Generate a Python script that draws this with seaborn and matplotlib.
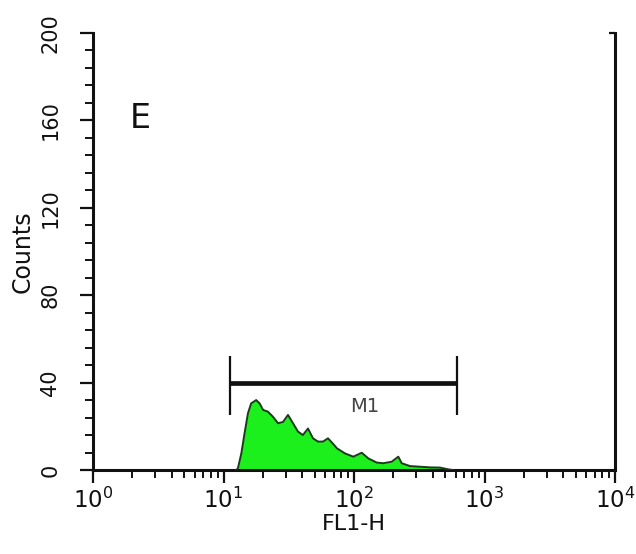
import matplotlib
matplotlib.use("Agg")
import matplotlib.pyplot as plt
import matplotlib.ticker as mticker
import seaborn as sns

# FL1-H histogram (log channel value vs. event count)
fl1_channel = [12.5, 12.9, 13.7, 14.5, 15.4, 16.3, 17.8, 18.9, 20.1, 21.9,
               23.9, 26.2, 28.6, 31.2, 34.1, 37.2, 40.6, 44.4, 48.5, 53.0,
               57.8, 63.2, 70.3, 74.1, 85.3, 98.8, 114.6, 128.8, 149.3, 167.9,
               194.5, 218.5, 232.0, 268.5, 320.5, 382.0, 456.0, 528.0, 574.0]
counts = [0, 0.8, 7.6, 16.8, 26, 30.5, 32, 30.5, 27.5, 26.7,
          24.4, 21.4, 22, 25.2, 21.4, 17.6, 16, 19, 14.5, 13,
          13, 14.5, 11.5, 9.9, 7.6, 6.1, 7.9, 5.3, 3.4, 3.1,
          3.8, 6.1, 3.1, 1.8, 1.5, 1.2, 1.1, 0.3, 0]

# M1 marker gate
m1_left, m1_right = 11.2, 615.0
m1_level = 40
m1_cap = (25, 52)
m1_label_pos = (121, 29)

x_ticks = [1, 10, 100, 1000, 10000]
x_tick_labels = [r"$10^{0}$", r"$10^{1}$", r"$10^{2}$", r"$10^{3}$", r"$10^{4}$"]
y_ticks = [0, 40, 80, 120, 160, 200]
y_tick_labels = ["0", "40", "80", "120", "160", "200"]

sns.set_theme(style="white")
plt.rcParams["font.family"] = ["DejaVu Sans"]
plt.rcParams["mathtext.fontset"] = "dejavusans"

ink = "#111111"
fill_green = "#1cf01c"
edge_green = "#1c3a1c"

fig = plt.figure(figsize=(6.36, 5.54), dpi=100)
ax = fig.add_axes([93 / 636, 1 - 470 / 554, (615 - 93) / 636, (470 - 33) / 554])
ax.set_xscale("log")

ax.fill_between(fl1_channel, counts, 0, color=fill_green, lw=0, zorder=2)
sns.lineplot(x=fl1_channel, y=counts, ax=ax, color=edge_green, lw=1.4,
             estimator=None, sort=False, zorder=3)

# gate marker
ax.hlines(m1_level, m1_left, m1_right, color=ink, lw=3.4, zorder=4)
ax.vlines([m1_left, m1_right], m1_cap[0], m1_cap[1], color=ink, lw=1.6, zorder=4)
ax.text(m1_label_pos[0], m1_label_pos[1], "M1", ha="center", va="center",
        fontsize=14, color="#444444")

ax.text(0.071, 0.805, "E", transform=ax.transAxes, ha="left", va="center",
        fontsize=24, color=ink)

ax.set_xlim(1, 10000)
ax.set_ylim(0, 200)

ax.set_xticks(x_ticks)
ax.set_xticklabels(x_tick_labels, fontsize=16.5, color=ink)
ax.xaxis.set_minor_locator(mticker.LogLocator(base=10, subs=range(2, 10), numticks=20))
ax.xaxis.set_minor_formatter(mticker.NullFormatter())

ax.set_yticks(y_ticks)
ax.set_yticklabels(y_tick_labels, fontsize=15, color=ink, rotation=90, va="center")
ax.yaxis.set_minor_locator(mticker.MultipleLocator(8))

ax.tick_params(axis="both", which="major", direction="out", length=9.5, width=1.6,
               color=ink, bottom=True, left=True)
ax.tick_params(axis="both", which="minor", direction="out", length=6, width=1.4,
               color=ink, bottom=True, left=True)
ax.tick_params(axis="x", which="major", pad=3)
ax.tick_params(axis="y", which="major", pad=14)

for side in ("left", "bottom", "right"):
    ax.spines[side].set_visible(True)
    ax.spines[side].set_color(ink)
    ax.spines[side].set_linewidth(2.2)
ax.spines["top"].set_visible(False)

# single inward tick at the top of the right-hand frame
ax_r = ax.twinx()
ax_r.set_ylim(0, 200)
ax_r.set_yticks([200])
ax_r.tick_params(axis="y", direction="in", length=4, width=1.6, color=ink,
                 right=True, labelright=False)
for side in ("left", "bottom", "top", "right"):
    ax_r.spines[side].set_visible(False)

ax.set_xlabel("FL1-H", fontsize=16, color=ink, labelpad=1)
ax.set_ylabel("Counts", fontsize=17, color=ink, labelpad=4)

fig.savefig("out.png", dpi=100, facecolor="white")
